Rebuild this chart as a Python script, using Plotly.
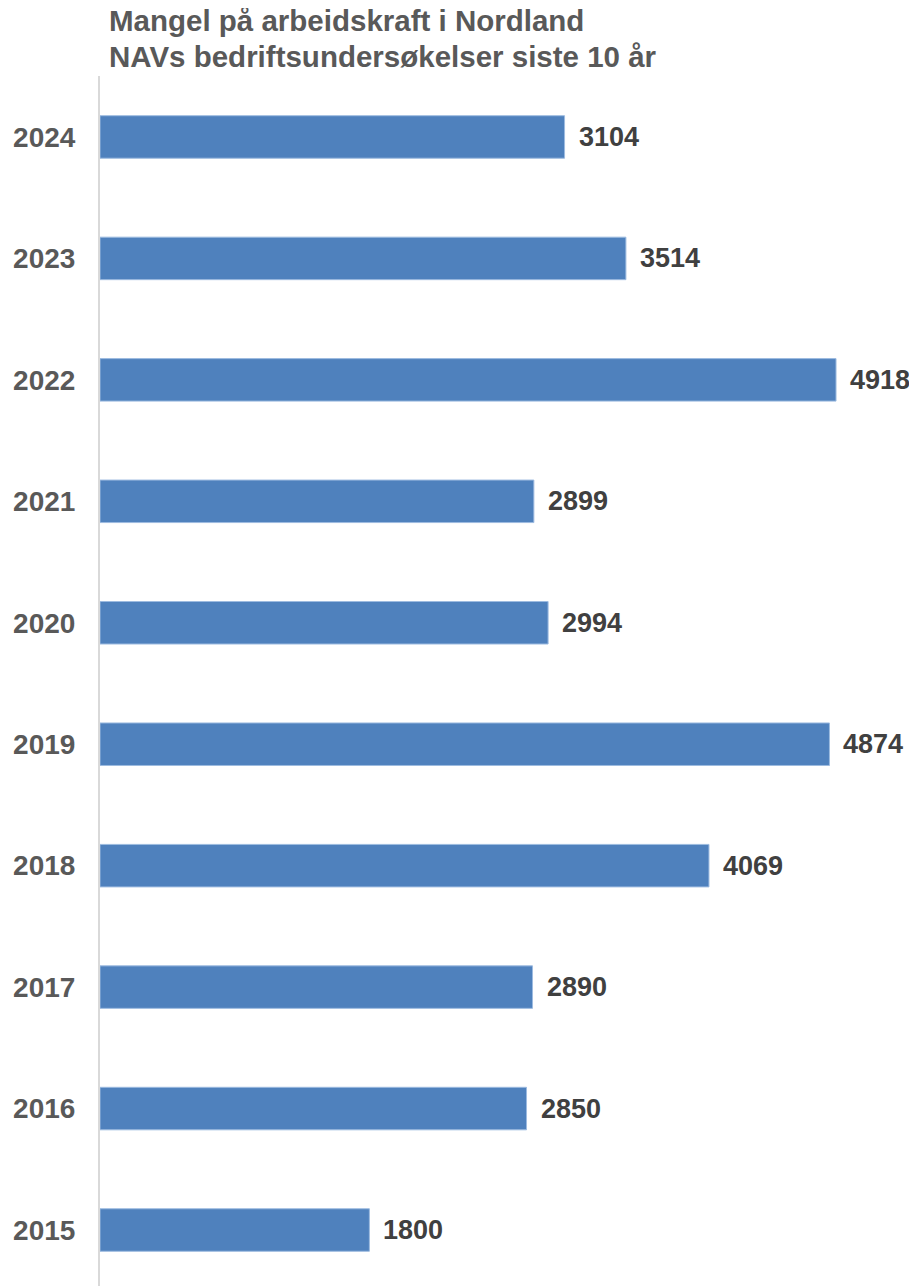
import plotly.graph_objects as go

# Data
years = ['2015', '2016', '2017', '2018', '2019', '2020', '2021', '2022', '2023', '2024']
shortage = [1800, 2850, 2890, 4069, 4874, 2994, 2899, 4918, 3514, 3104]

title_lines = ['Mangel på arbeidskraft i Nordland',
               'NAVs bedriftsundersøkelser siste 10 år']

BAR_COLOR = '#4F81BD'
FONT = 'Liberation Sans, Arial, sans-serif'

fig = go.Figure()

fig.add_trace(go.Bar(
    x=shortage,
    y=years,
    orientation='h',
    width=0.35,
    marker=dict(color=BAR_COLOR, line=dict(color='#9DBBE0', width=1)),
    hoverinfo='x+y',
))

# value labels to the right of each bar (category index used as y position)
for i, value in enumerate(shortage):
    fig.add_annotation(
        x=value, y=i, text=f'<b>{value}</b>',
        xanchor='left', yanchor='middle', xshift=12,
        showarrow=False,
        font=dict(family=FONT, size=27, color='#404040'),
    )

# two-line title, placed line by line above the plot area
for line, ypos in zip(title_lines, [1.0455, 1.0165]):
    fig.add_annotation(
        x=0.0086, y=ypos, xref='paper', yref='paper',
        text=f'<b>{line}</b>', xanchor='left', yanchor='middle',
        showarrow=False,
        font=dict(family=FONT, size=29.5, color='#595959'),
    )

# the page body adds an 8px margin, so the figure is 8px smaller each way
fig.update_layout(
    width=909,
    height=1278,
    margin=dict(l=92, r=0, t=68, b=0),
    paper_bgcolor='white',
    plot_bgcolor='white',
    showlegend=False,
)

fig.update_xaxes(
    range=[0, 5459], automargin=False,
    showgrid=False, zeroline=False, showticklabels=False, showline=False,
)

fig.update_yaxes(
    type='category', automargin=False,
    categoryorder='array', categoryarray=years,
    range=[-0.461, 9.502],
    showgrid=False, zeroline=False,
    showline=True, linecolor='#D9D9D9', linewidth=2,
    ticks='', ticklabelstandoff=17,
    tickfont=dict(family=FONT, size=28, color='#595959', weight='bold'),
)

fig.write_html('out.html')
